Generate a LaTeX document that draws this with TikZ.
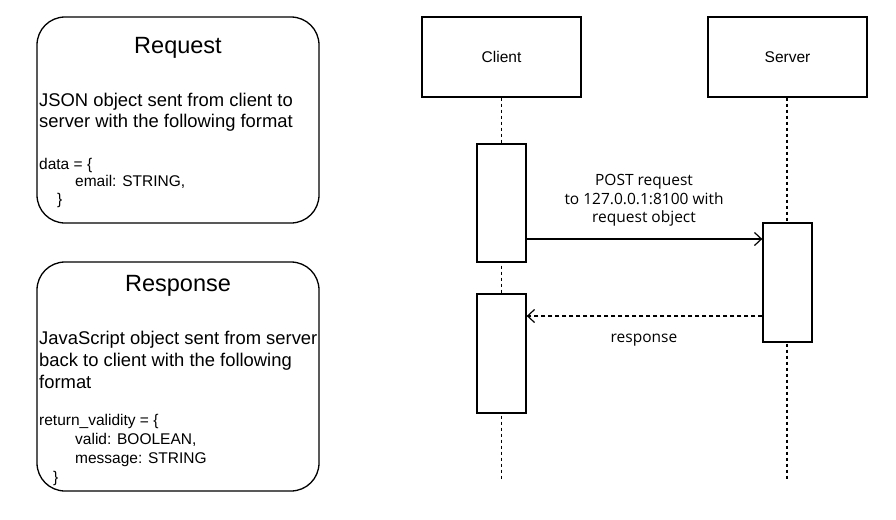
\documentclass[tikz,border=0pt]{standalone}
\usepackage{fontspec}
\setmainfont{Liberation Sans}
\newfontfamily\labelfont{Open Sans}
\usetikzlibrary{arrows.meta}
\begin{document}
\begin{tikzpicture}[x=1pt,y=-1pt,
  infobox/.style={draw=black,line width=1.3pt,rounded corners=28pt,minimum width=282pt,inner sep=0pt},
  actor/.style={draw=black,line width=1.3pt,minimum width=159pt,minimum height=80pt,inner sep=0pt,font=\fontsize{15.5}{18}\selectfont},
  activ/.style={draw=black,line width=1.3pt,fill=white,minimum width=49pt,inner sep=0pt},
  lifeline/.style={draw=black,line width=1.2pt,dash pattern=on 3pt off 3pt},
  msg/.style={draw=black,line width=1.2pt,-{Straight Barb[length=7pt,width=13pt]}},
  ret/.style={draw=black,line width=1.2pt,dash pattern=on 4pt off 3pt,-{Straight Barb[length=7pt,width=13pt]}},
  title/.style={font=\fontsize{23.5}{28}\selectfont,inner sep=0pt},
  body/.style={align=left,inner sep=0pt,anchor=west},
  msglabel/.style={font=\labelfont\fontsize{15.5}{18.5}\selectfont,align=center,inner sep=0pt}
]
\useasboundingbox (0,0) rectangle (896,519);

% info boxes
\node[infobox,minimum height=206pt] (req) at (178,120) {};
\node[title] (reqt) at (178,47.5) {Request};
\node[body,font=\fontsize{18.4}{20.5}\selectfont] (reqb) at (39,112) {JSON object sent from client to\\server with the following format};
\node[body,font=\fontsize{15.5}{17.5}\selectfont] (reqc) at (39,182.5) {data = \{\\\hspace*{36pt}email: STRING,\\\hspace*{18pt}\}};

\node[infobox,minimum height=229pt] (res) at (178,376.5) {};
\node[title] (rest) at (178,285.5) {Response};
\node[body,font=\fontsize{18.4}{22}\selectfont] (resb) at (39,360) {JavaScript object sent from server\\back to client with the following\\format};
\node[body,font=\fontsize{15.5}{18.7}\selectfont] (resc) at (39,450) {return\_validity = \{\\\hspace*{36pt}valid: BOOLEAN,\\\hspace*{36pt}message: STRING\\\hspace*{14pt}\}};

% actors
\node[actor] (client) at (501.5,57) {Client};
\node[actor] (server) at (787.5,57) {Server};
\coordinate (cend) at (501.5,480);
\coordinate (send) at (787,480);
\draw[lifeline] (client.south) -- (cend);
\draw[lifeline] (server.south -| send) -- (send);

% activations
\node[activ,minimum height=118pt] (a1) at (501.5,203) {};
\node[activ,minimum height=119pt] (a2) at (501.5,353.5) {};
\node[activ,minimum height=119pt] (s1) at (787.5,282.5) {};

% messages
\draw[msg] ([yshift=-36pt]a1.east) coordinate (p) -- (p -| s1.west);
\draw[ret] ([yshift=-33.5pt]s1.west) coordinate (q) -- (q -| a2.east);

\node[msglabel] (l1) at (644,200.5) {POST request\\to 127.0.0.1:8100 with\\request object};
\node[msglabel] (l2) at (644,340.5) {response};
\end{tikzpicture}
\end{document}
